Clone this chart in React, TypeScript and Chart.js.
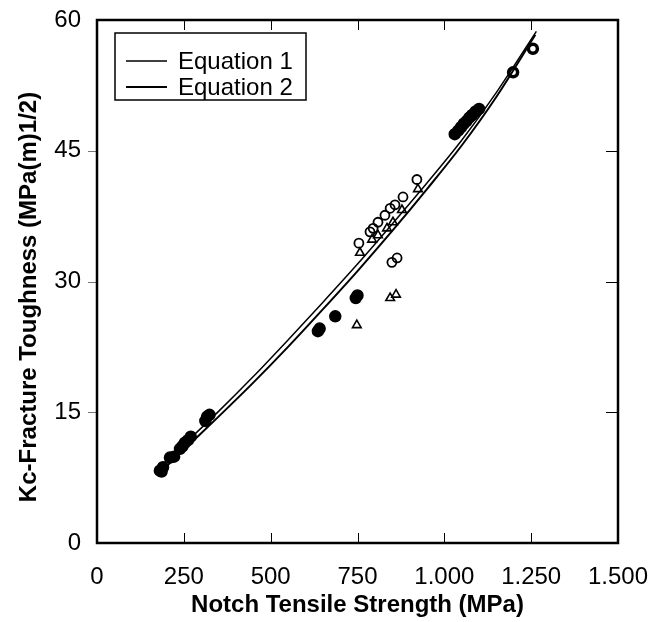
import React, { useEffect, useRef } from "react";
import { Chart, registerables } from "chart.js";

Chart.register(...registerables);

const FONT = "'Liberation Sans', Arial, Helvetica, sans-serif";

const xTickValues = [0, 250, 500, 750, 1000, 1250, 1500];
const xTickLabels = ["0", "250", "500", "750", "1.000", "1.250", "1.500"];
const yTickValues = [0, 15, 30, 45, 60];
const yTickLabels = ["0", "15", "30", "45", "60"];

const seriesNames = ["Equation 1", "Equation 2"];
const xTitle = "Notch Tensile Strength (MPa)";
const yTitle = "Kc-Fracture Toughness (MPa(m)1/2)";

// Equation curves (MPa, MPa·m^1/2)
const equation1 = [
  [180, 8.7], [250, 11.3], [350, 15.1], [450, 19.1], [550, 23.3], [650, 27.6],
  [750, 32.0], [850, 36.6], [950, 41.3], [1050, 46.2], [1150, 51.7], [1265, 58.7],
];
const equation2 = [
  [190, 8.4], [250, 10.7], [350, 14.5], [450, 18.4], [550, 22.5], [650, 26.8],
  [750, 31.2], [850, 35.8], [950, 40.6], [1050, 45.6], [1150, 51.2], [1262, 58.3],
];

// Measured data
const filledCircles = [
  [181, 8.3], [186, 8.2], [190, 8.7], [210, 9.8], [222, 9.9], [239, 10.8], [246, 11.1],
  [253, 11.5], [262, 11.8], [270, 12.2], [312, 14.0], [317, 14.5], [324, 14.7],
  [636, 24.3], [641, 24.6], [686, 26.0], [745, 28.1], [750, 28.4],
  [1030, 46.9], [1040, 47.3], [1048, 47.7], [1056, 48.1], [1064, 48.4], [1072, 48.8],
  [1080, 49.1], [1090, 49.5], [1100, 49.8],
];
const ringMarkers = [[1198, 54.0], [1255, 56.7]];
const openCircles = [
  [754, 34.4], [786, 35.7], [795, 36.1], [809, 36.8], [829, 37.6], [844, 38.4],
  [858, 38.8], [881, 39.7], [921, 41.7], [849, 32.2], [864, 32.7],
];
const openTriangles = [
  [757, 33.3], [792, 34.8], [809, 35.3], [835, 36.1], [852, 36.8], [878, 38.2],
  [924, 40.6], [748, 25.0], [844, 28.1], [861, 28.5],
];

const toXY = (arr: number[][]) => arr.map(([x, y]) => ({ x, y }));

const framePlugin = {
  id: "frameAndTicks",
  afterDraw(chart: any) {
    const { ctx, chartArea } = chart;
    const { left, right, top, bottom } = chartArea;
    const xs = chart.scales.x;
    const ys = chart.scales.y;
    ctx.save();
    ctx.strokeStyle = "#000";
    ctx.lineWidth = 1;
    xTickValues.slice(1, -1).forEach((v) => {
      const px = Math.round(xs.getPixelForValue(v)) + 0.5;
      ctx.beginPath();
      ctx.moveTo(px, bottom);
      ctx.lineTo(px, bottom - 10);
      ctx.moveTo(px, top);
      ctx.lineTo(px, top + 10);
      ctx.stroke();
    });
    yTickValues.slice(1, -1).forEach((v) => {
      const py = Math.round(ys.getPixelForValue(v)) + 0.5;
      ctx.beginPath();
      ctx.moveTo(right, py);
      ctx.lineTo(right - 12, py);
      ctx.stroke();
      ctx.strokeStyle = "#777";
      ctx.beginPath();
      ctx.moveTo(left, py);
      ctx.lineTo(left - 9, py);
      ctx.stroke();
      ctx.strokeStyle = "#000";
    });
    ctx.lineWidth = 2.5;
    ctx.strokeRect(left, top, right - left, bottom - top);

    // y-axis title
    ctx.save();
    ctx.translate(29, 297);
    ctx.rotate(-Math.PI / 2);
    ctx.font = `bold 24px ${FONT}`;
    ctx.textAlign = "center";
    ctx.textBaseline = "middle";
    ctx.fillStyle = "#000";
    ctx.fillText(yTitle, 0, 0);
    ctx.restore();

    // legend box
    const bx = left + 18;
    const by = top + 13;
    const bw = 191;
    const bh = 67;
    ctx.fillStyle = "#fff";
    ctx.fillRect(bx, by, bw, bh);
    ctx.lineWidth = 1.5;
    ctx.strokeRect(bx, by, bw, bh);
    ctx.font = `24px ${FONT}`;
    ctx.textBaseline = "middle";
    ctx.textAlign = "left";
    ctx.fillStyle = "#000";
    const rows = [by + 28, by + 54];
    chart.data.datasets.slice(0, 2).forEach((ds: any, i: number) => {
      ctx.lineWidth = ds.borderWidth;
      ctx.beginPath();
      ctx.moveTo(bx + 11, rows[i]);
      ctx.lineTo(bx + 52, rows[i]);
      ctx.stroke();
      ctx.fillText(ds.label, bx + 63, rows[i] + 1);
    });
    ctx.restore();
  },
};

export default function App() {
  const ref = useRef<HTMLCanvasElement | null>(null);

  useEffect(() => {
    document.body.style.margin = "0";
    if (!ref.current) return;
    const lineStyle = {
      showLine: true,
      pointRadius: 0,
      borderColor: "#000",
      backgroundColor: "#000",
      cubicInterpolationMode: "monotone" as const,
      fill: false,
    };
    const chart = new Chart(ref.current, {
      type: "scatter",
      data: {
        datasets: [
          { ...lineStyle, label: seriesNames[0], data: toXY(equation1), borderWidth: 1.5 },
          { ...lineStyle, label: seriesNames[1], data: toXY(equation2), borderWidth: 2 },
          {
            label: "filled",
            data: toXY(filledCircles),
            pointStyle: "circle",
            pointRadius: 5.5,
            borderWidth: 1.5,
            borderColor: "#000",
            backgroundColor: "#000",
          },
          {
            label: "rings",
            data: toXY(ringMarkers),
            pointStyle: "circle",
            pointRadius: 4.5,
            borderWidth: 3.5,
            borderColor: "#000",
            backgroundColor: "#fff",
          },
          {
            label: "open circles",
            data: toXY(openCircles),
            pointStyle: "circle",
            pointRadius: 4.5,
            borderWidth: 1.8,
            borderColor: "#000",
            backgroundColor: "rgba(255,255,255,0)",
          },
          {
            label: "open triangles",
            data: toXY(openTriangles),
            pointStyle: "triangle",
            pointRadius: 5,
            borderWidth: 1.6,
            borderColor: "#000",
            backgroundColor: "rgba(255,255,255,0)",
          },
        ],
      },
      options: {
        animation: false,
        responsive: false,
        layout: { padding: { top: 20, right: 49, left: 0, bottom: 0 } },
        plugins: { legend: { display: false }, tooltip: { enabled: false } },
        events: [],
        scales: {
          x: {
            type: "linear",
            min: 0,
            max: 1500,
            afterBuildTicks: (s: any) => {
              s.ticks = xTickValues.map((value) => ({ value }));
            },
            afterFit: (s: any) => {
              s.height = 79;
              s.paddingLeft = 0;
              s.paddingRight = 0;
            },
            grid: { display: false, drawTicks: false },
            border: { display: false },
            ticks: {
              padding: 20,
              color: "#000",
              font: { family: FONT, size: 24 },
              maxRotation: 0,
              autoSkip: false,
              callback: (_v: any, i: number) => xTickLabels[i],
            },
            title: {
              display: true,
              text: xTitle,
              color: "#000",
              font: { family: FONT, size: 24, weight: "bold" },
              padding: { top: 0, bottom: 2 },
            },
          },
          y: {
            type: "linear",
            min: 0,
            max: 60,
            afterBuildTicks: (s: any) => {
              s.ticks = yTickValues.map((value) => ({ value }));
            },
            afterFit: (s: any) => {
              s.width = 97;
              s.paddingTop = 0;
              s.paddingBottom = 0;
            },
            grid: { display: false, drawTicks: false },
            border: { display: false },
            ticks: {
              padding: 16,
              color: "#000",
              font: { family: FONT, size: 24 },
              autoSkip: false,
              callback: (_v: any, i: number) => yTickLabels[i],
            },
            title: { display: false },
          },
        },
      },
      plugins: [framePlugin],
    });
    return () => chart.destroy();
  }, []);

  return (
    <div style={{ width: 667, height: 622, background: "#fff" }}>
      <canvas ref={ref} width={667} height={622} style={{ display: "block" }} />
    </div>
  );
}
